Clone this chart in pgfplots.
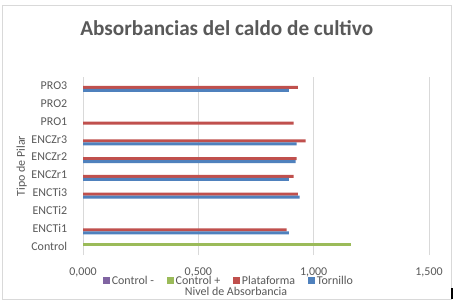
\documentclass[border=0pt]{standalone}
\usepackage{fontspec}
\setmainfont{Carlito}
\usepackage{pgfplots}
\pgfplotsset{compat=1.18}
\definecolor{txt}{HTML}{595959}
\definecolor{gridc}{HTML}{D9D9D9}
\definecolor{cpurple}{HTML}{8064A2}
\definecolor{cgreen}{HTML}{9BBB59}
\definecolor{cred}{HTML}{C0504D}
\definecolor{cblue}{HTML}{4F81BD}
\begin{document}
\begin{tikzpicture}
\useasboundingbox (0bp,0bp) rectangle (457bp,305bp);
\fill[white] (0bp,0bp) rectangle (457bp,305bp);
\draw[gridc, line width=0.75bp] (2.5bp,6bp) rectangle (451.7bp,299.7bp);
\draw[black, line width=1.2bp] (452bp,6bp) -- (452bp,17bp);
\begin{axis}[
  at={(83bp,50bp)}, anchor=south west, scale only axis,
  width=346bp, height=178bp,
  xmin=0, xmax=1.5, ymin=-0.5, ymax=9.5,
  xtick={0,0.5,1,1.5},
  xticklabels={{0,000},{0,500},{1,000},{1,500}},
  ytick={0,1,2,3,4,5,6,7,8,9},
  yticklabels={Control,ENCTi1,ENCTi2,ENCTi3,ENCZr1,ENCZr2,ENCZr3,PRO1,PRO2,PRO3},
  xmajorgrids, major grid style={gridc, line width=0.75bp},
  axis line style={draw=none}, tick style={draw=none},
  ticklabel style={font=\fontsize{12}{14}\selectfont, text=txt},
  xticklabel style={anchor=base, yshift=-20bp},
  yticklabel style={xshift=-8bp},
  xbar, bar width=3bp,
  legend columns=4,
  legend image code/.code={\fill[#1] (0bp,-3.3bp) rectangle (6.7bp,3.3bp);},
  legend style={at={(0.422,-0.144)}, anchor=center, draw=none, fill=none,
    font=\fontsize{12}{14}\selectfont, text=txt,
    /tikz/every even column/.append style={column sep=11bp}},
]
\addplot[xbar, fill=cpurple, draw=none, bar shift=4.5bp] coordinates {(0,0)};
\addlegendentry{Control -}
\addplot[xbar, fill=cgreen, draw=none, bar shift=1.5bp] coordinates {(1.164,0)};
\addlegendentry{Control +}
\addplot[xbar, fill=cred, draw=none, bar shift=-1.5bp] coordinates {
 (0.883,1) (0.931,3) (0.913,4) (0.926,5) (0.965,6) (0.913,7) (0.931,9)};
\addlegendentry{Plataforma}
\addplot[xbar, fill=cblue, draw=none, bar shift=-4.5bp] coordinates {
 (0.892,1) (0.939,3) (0.893,4) (0.922,5) (0.926,6) (0.893,9)};
\addlegendentry{Tornillo}
\end{axis}
\node[font=\bfseries\fontsize{21.3}{25}\selectfont, text=txt] at (226.7bp,277bp) {Absorbancias del caldo de cultivo};
\node[font=\fontsize{12}{14}\selectfont, text=txt] at (236bp,14bp) {Nivel de Absorbancia};
\node[font=\fontsize{12}{14}\selectfont, text=txt, rotate=90] at (21.7bp,139bp) {Tipo de Pilar};
\end{tikzpicture}
\end{document}
